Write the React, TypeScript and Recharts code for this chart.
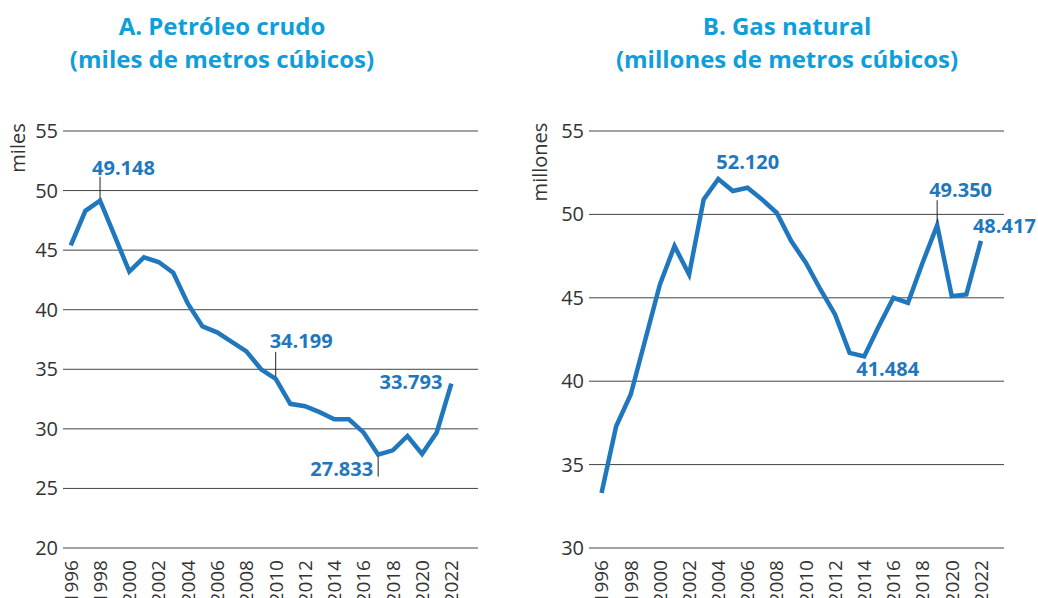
import React from 'react';
import { LineChart, Line, XAxis, YAxis, CartesianGrid } from 'recharts';

const years = [1996,1997,1998,1999,2000,2001,2002,2003,2004,2005,2006,2007,2008,2009,2010,2011,2012,2013,2014,2015,2016,2017,2018,2019,2020,2021,2022];
const oilValues = [45.4,48.3,49.148,46.2,43.2,44.4,44.0,43.1,40.5,38.6,38.1,37.3,36.5,35.0,34.199,32.1,31.9,31.4,30.8,30.8,29.7,27.833,28.2,29.4,27.9,29.7,33.793];
const gasValues = [33.3,37.3,39.2,42.5,45.8,48.1,46.4,50.9,52.12,51.4,51.6,50.9,50.1,48.4,47.1,45.5,44.0,41.7,41.484,43.3,45.0,44.7,47.1,49.35,45.1,45.2,48.417];
const xTicks = [1996,1998,2000,2002,2004,2006,2008,2010,2012,2014,2016,2018,2020,2022];
const oilYTicks = [20,25,30,35,40,45,50,55];
const gasYTicks = [30,35,40,45,50,55];

const oilNotes = [
  { year: 1998, text: '49.148', dx: -8, dy: -33, anchor: 'start', leader: [-24, -2] },
  { year: 2010, text: '34.199', dx: -6, dy: -38, anchor: 'start', leader: [-27, -2] },
  { year: 2017, text: '27.833', dx: -5, dy: 14, anchor: 'end', leader: [2, 22] },
  { year: 2022, text: '33.793', dx: -9, dy: -2, anchor: 'end', leader: null },
];
const gasNotes = [
  { year: 2004, text: '52.120', dx: -2, dy: -17, anchor: 'start', leader: null },
  { year: 2014, text: '41.484', dx: -8, dy: 13, anchor: 'start', leader: null },
  { year: 2019, text: '49.350', dx: -8, dy: -35, anchor: 'start', leader: [-25, -3] },
  { year: 2022, text: '48.417', dx: -8, dy: -15, anchor: 'start', leader: null },
];

const oilData = years.map((y, i) => ({ year: y, v: oilValues[i] }));
const gasData = years.map((y, i) => ({ year: y, v: gasValues[i] }));

const LINE = '#1f77bd';
const TITLE = '#0e9edb';
const TXT = '#333333';
const FONT = "'Open Sans', sans-serif";

const YTick = (props: any) => {
  const { x, y, payload } = props;
  return (
    <text x={x} y={y} textAnchor="end" dy="0.35em" fontSize={20} fill={TXT} fontFamily={FONT}>
      {payload.value}
    </text>
  );
};

const XTick = (props: any) => {
  const { x, y, payload } = props;
  return (
    <text x={x} y={y} transform={`rotate(-90, ${x}, ${y})`} textAnchor="end" dy="0.36em" fontSize={19} fill={TXT} fontFamily={FONT}>
      {payload.value}
    </text>
  );
};

const makeDot = (notes: any[]) => (props: any) => {
  const { cx, cy, payload, index } = props;
  const note = notes.find((n) => n.year === payload.year);
  if (!note) return <g key={`d${index}`} />;
  return (
    <g key={`d${index}`}>
      {note.leader && (
        <line x1={cx} x2={cx} y1={cy + note.leader[0]} y2={cy + note.leader[1]} stroke="#222" strokeWidth={1} />
      )}
      <text x={cx + note.dx} y={cy + note.dy} dy="0.35em" textAnchor={note.anchor} fontSize={20} fontWeight={700} fill={LINE} fontFamily={FONT}>
        {note.text}
      </text>
    </g>
  );
};

const Panel = (p: any) => (
  <div style={{ position: 'absolute', left: p.left, top: 0, width: p.width, height: 598 }}>
    <LineChart width={p.width} height={598} data={p.data} margin={{ top: 131, right: p.right, bottom: 0, left: 0 }} style={{ overflow: 'visible' }}>
      <CartesianGrid horizontal vertical={false} stroke="#444" strokeWidth={1} />
      <XAxis dataKey="year" type="number" domain={p.xDomain} ticks={xTicks} interval={0} axisLine={false} tickLine={false} tickSize={0} tickMargin={12} height={50} tick={<XTick />} />
      <YAxis type="number" domain={p.yDomain} ticks={p.yTicks} interval={0} axisLine={false} tickLine={false} tickSize={0} tickMargin={5} width={p.yWidth} tick={<YTick />} />
      <Line dataKey="v" stroke={LINE} strokeWidth={4.5} dot={makeDot(p.notes)} activeDot={false} isAnimationActive={false} />
    </LineChart>
  </div>
);

const Title = (p: any) => (
  <div style={{ position: 'absolute', left: p.cx - 250, width: 500, top: 9, textAlign: 'center', color: TITLE, fontFamily: FONT, fontWeight: 700, fontSize: 24, lineHeight: '33px' }}>
    <div>{p.l1}</div>
    <div>{p.l2}</div>
  </div>
);

const AxisLabel = (p: any) => (
  <div style={{ position: 'absolute', left: p.x - 60, top: p.y - 14, width: 120, height: 28, lineHeight: '28px', textAlign: 'center', transform: 'rotate(-90deg)', fontFamily: FONT, fontSize: 20, color: TXT }}>
    {p.text}
  </div>
);

export default function App() {
  return (
    <div style={{ position: 'absolute', left: 0, top: 0, width: 1038, height: 598, background: '#fff', overflow: 'hidden' }}>
      <Panel left={0} width={520} right={42} yWidth={63} data={oilData} xDomain={[1995.47, 2023.82]} yDomain={[20, 55]} yTicks={oilYTicks} notes={oilNotes} />
      <Panel left={520} width={518} right={34} yWidth={69} data={gasData} xDomain={[1995.14, 2023.58]} yDomain={[30, 55]} yTicks={gasYTicks} notes={gasNotes} />
      <Title cx={222} l1="A. Petróleo crudo" l2="(miles de metros cúbicos)" />
      <Title cx={787} l1="B. Gas natural" l2="(millones de metros cúbicos)" />
      <AxisLabel x={18} y={148} text="miles" />
      <AxisLabel x={540} y={162} text="millones" />
    </div>
  );
}
